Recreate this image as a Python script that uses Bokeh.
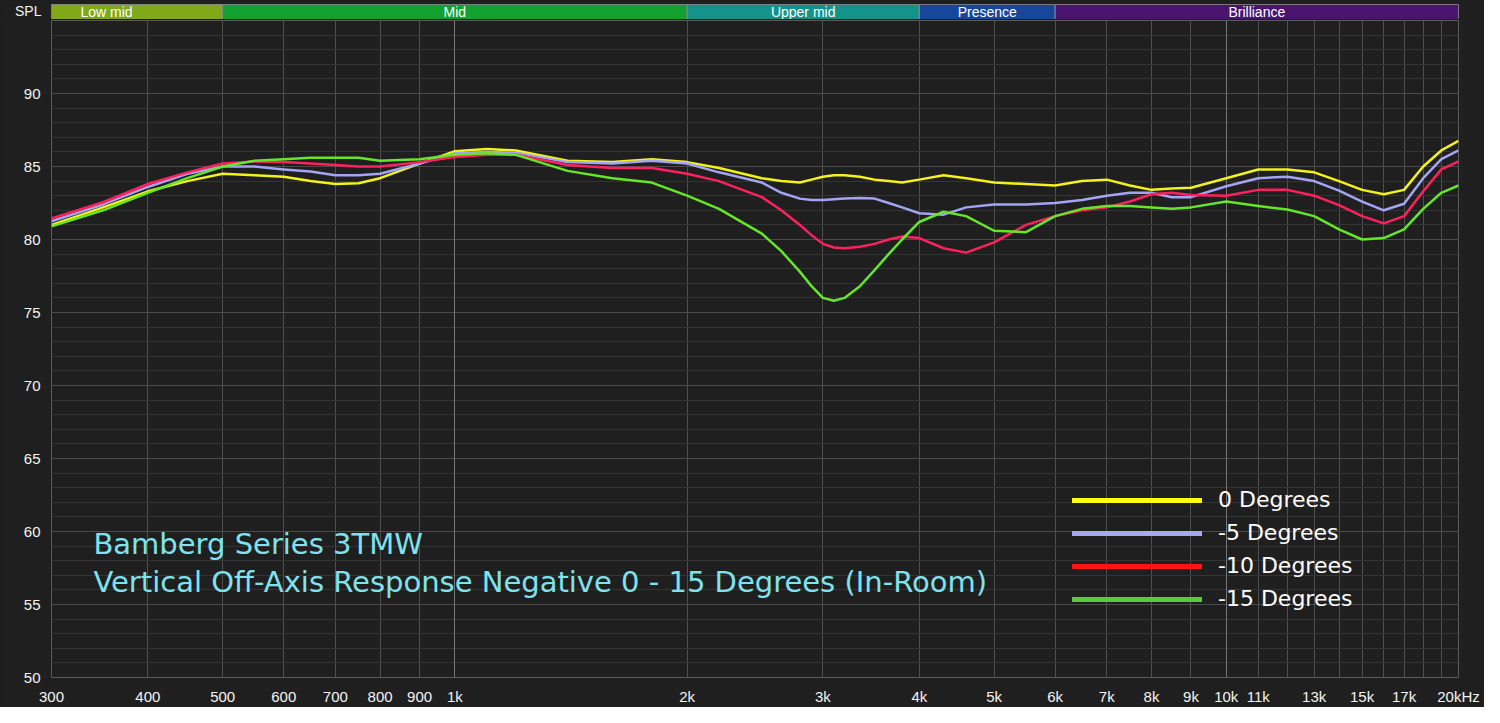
from bokeh.plotting import figure
from bokeh.models import (Range1d, FixedTicker, Grid, Legend, LegendItem, Label)
from bokeh.layouts import column
from bokeh.embed import file_html
from bokeh.resources import INLINE
from bokeh.core.properties import value
import math

# ---------------- data ----------------
freqs = [300, 350, 400, 450, 500, 550, 600, 650, 700, 750, 800, 900, 1000, 1100, 1200,
         1400, 1600, 1800, 2000, 2200, 2500, 2650, 2800, 2900, 3000, 3100, 3200, 3350, 3500,
         3650, 3800, 4000, 4300, 4600, 5000, 5500, 6000, 6500, 7000, 7500, 8000, 8500, 9000,
         10000, 11000, 12000, 13000, 14000, 15000, 16000, 17000, 18000, 19000, 20000]

deg_0 = [81.0, 82.2, 83.3, 84.0, 84.5, 84.4, 84.3, 84.0, 83.8, 83.85, 84.2, 85.2, 86.05,
         86.2, 86.1, 85.4, 85.3, 85.5, 85.3, 84.9, 84.2, 84.0, 83.9, 84.1, 84.3, 84.4, 84.4,
         84.3, 84.1, 84.0, 83.9, 84.1, 84.4, 84.2, 83.9, 83.8, 83.7, 84.0, 84.1, 83.7, 83.4,
         83.5, 83.55, 84.2, 84.8, 84.8, 84.6, 84.0, 83.4, 83.1, 83.4, 85.0, 86.1, 86.75]

deg_m5 = [81.25, 82.4, 83.6, 84.5, 85.0, 85.0, 84.8, 84.65, 84.4, 84.4, 84.5, 85.2, 85.9,
          86.0, 85.95, 85.3, 85.2, 85.4, 85.2, 84.6, 83.9, 83.2, 82.8, 82.7, 82.7, 82.75, 82.8,
          82.85, 82.8, 82.5, 82.2, 81.8, 81.7, 82.2, 82.4, 82.4, 82.5, 82.7, 83.0, 83.2, 83.2,
          82.9, 82.9, 83.65, 84.2, 84.3, 84.0, 83.35, 82.6, 82.0, 82.45, 84.2, 85.5, 86.1]

deg_m10 = [81.45, 82.55, 83.8, 84.6, 85.2, 85.35, 85.3, 85.2, 85.1, 85.0, 85.0, 85.3, 85.65,
           85.8, 85.8, 85.1, 84.9, 84.9, 84.5, 84.0, 82.9, 82.0, 81.0, 80.3, 79.7, 79.45, 79.4,
           79.5, 79.7, 80.0, 80.2, 80.1, 79.4, 79.1, 79.8, 81.0, 81.6, 82.0, 82.2, 82.6, 83.1,
           83.2, 83.05, 83.0, 83.4, 83.4, 83.0, 82.35, 81.6, 81.1, 81.6, 83.3, 84.8, 85.35]

deg_m15 = [80.9, 82.0, 83.2, 84.2, 85.0, 85.4, 85.5, 85.6, 85.6, 85.6, 85.4, 85.5, 85.8,
           85.9, 85.8, 84.7, 84.2, 83.9, 83.0, 82.1, 80.4, 79.2, 77.8, 76.8, 76.0, 75.8, 76.0,
           76.8, 77.9, 79.0, 80.0, 81.2, 81.9, 81.6, 80.6, 80.5, 81.6, 82.1, 82.3, 82.3, 82.2,
           82.1, 82.2, 82.6, 82.3, 82.05, 81.6, 80.7, 80.0, 80.1, 80.7, 82.1, 83.2, 83.7]

series_names = ["0 Degrees", "-5 Degrees", "-10 Degrees", "-15 Degrees"]

band_names = ["Low mid", "Mid", "Upper mid", "Presence", "Brilliance"]
band_lo = [250, 500, 2000, 4000, 6000]
band_hi = [500, 2000, 4000, 6000, 20000]

x_ticks = [300, 400, 500, 600, 700, 800, 900, 1000, 2000, 3000, 4000, 5000, 6000,
           7000, 8000, 9000, 10000, 11000, 13000, 15000, 17000, 20000]
x_tick_labels = ["300", "400", "500", "600", "700", "800", "900", "1k", "2k", "3k", "4k",
                 "5k", "6k", "7k", "8k", "9k", "10k", "11k", "13k", "15k", "17k", "20kHz"]
x_extra_grid = [12000, 14000, 16000, 18000, 19000]
x_bright_grid = [1000, 10000]
y_ticks = [50, 55, 60, 65, 70, 75, 80, 85, 90]
y_minor = list(range(50, 96))

title_lines = ["Bamberg Series 3TMW",
               "Vertical Off-Axis Response Negative 0 - 15 Degrees (In-Room)"]

# ---------------- styles ----------------
BG = "#1f1f1f"
curve_colors = ["#f2f21e", "#a4a4f4", "#ff2060", "#66e628"]
legend_colors = ["#ffff10", "#a8a8f0", "#ff1414", "#5cc83c"]
band_colors = ["#80a818", "#12a02e", "#13938a", "#17479a", "#4a1570"]
TITLE_COLOR = "#7fe3ee"
FONT = "Liberation Sans"
WIDE = "DejaVu Sans"

W = 1484
x_range = Range1d(300, 20000)

# ---------------- band strip ----------------
pb = figure(width=W, height=19, x_axis_type="log", x_range=x_range, y_range=Range1d(0, 1),
            output_backend="svg", toolbar_location=None,
            min_border_left=51, min_border_right=26, min_border_top=4, min_border_bottom=0,
            background_fill_color=BG, border_fill_color=BG, outline_line_color="#777777")
pb.xaxis.visible = False
pb.grid.visible = False
pb.quad(left=band_lo, right=band_hi, bottom=0, top=1, fill_color=band_colors,
        line_color="#8a8a8a", line_width=1)
band_centers = [math.sqrt(a * b) for a, b in zip(band_lo, band_hi)]
pb.text(x=band_centers, y=[0.5] * len(band_names), text=band_names, text_align="center",
        text_baseline="middle", text_color="#ffffff", text_font=value(FONT),
        text_font_size="14px")
pb.yaxis.ticker = FixedTicker(ticks=[0.5])
pb.yaxis.major_label_overrides = {0.5: "SPL"}
pb.yaxis.axis_line_color = None
pb.yaxis.major_tick_line_color = None
pb.yaxis.minor_tick_line_color = None
pb.yaxis.major_label_text_color = "#f4f4f4"
pb.yaxis.major_label_text_font = FONT
pb.yaxis.major_label_text_font_size = "14px"
pb.yaxis.major_label_standoff = 4

# ---------------- main plot ----------------
p = figure(width=W, height=688, x_axis_type="log", x_range=x_range, y_range=Range1d(50, 95),
           output_backend="svg", toolbar_location=None,
           min_border_left=51, min_border_right=26, min_border_top=1, min_border_bottom=22,
           background_fill_color=BG, border_fill_color=BG, outline_line_color="#5a5a5a")
# a range far away from the data, used only so legend swatches draw nothing in the frame
p.extra_y_ranges = {"legend_only": Range1d(1000, 1001)}

p.xaxis.ticker = FixedTicker(ticks=x_ticks)
p.xaxis.major_label_overrides = {t: l for t, l in zip(x_ticks, x_tick_labels)}
p.yaxis.ticker = FixedTicker(ticks=y_ticks)

p.xgrid.ticker = FixedTicker(ticks=x_ticks + x_extra_grid)
p.xgrid.grid_line_color = "#4f4f4f"
p.ygrid.ticker = FixedTicker(ticks=y_ticks, minor_ticks=y_minor)
p.ygrid.grid_line_color = "#4a4a4a"
p.ygrid.minor_grid_line_color = "#343434"
p.add_layout(Grid(dimension=0, ticker=FixedTicker(ticks=x_bright_grid),
                  grid_line_color="#767676"))

for ax in (p.xaxis[0], p.yaxis[0]):
    ax.axis_line_color = None
    ax.major_tick_line_color = None
    ax.minor_tick_line_color = None
    ax.major_label_text_color = "#f4f4f4"
    ax.major_label_text_font = FONT
    ax.major_label_text_font_size = "15px"
p.xaxis.major_label_standoff = 4
p.yaxis.major_label_standoff = 5

all_series = [deg_0, deg_m5, deg_m10, deg_m15]
for ys, c in zip(all_series, curve_colors):
    p.line(freqs, ys, line_color=c, line_width=2.5, line_join="round")

# legend: thick-line renderers mapped to an off-screen range
items = []
for name, c, ys in zip(series_names, legend_colors, all_series):
    r = p.line(freqs, ys, y_range_name="legend_only", line_color=c, line_width=5,
               line_cap="round")
    items.append(LegendItem(label=name, renderers=[r]))
legend = Legend(items=items, location=(1021, 66), orientation="vertical",
                background_fill_alpha=0, border_line_color=None, padding=0, margin=0,
                glyph_width=130, glyph_height=22, label_height=22, spacing=8,
                label_standoff=16, label_text_color="#ffffff", label_text_font=WIDE,
                label_text_font_size="22px")
p.add_layout(legend)

# title annotation
p.add_layout(Label(x=340, y=59.15, text=title_lines[0], text_color=TITLE_COLOR,
                   text_font=WIDE, text_font_size="29px", text_baseline="middle"))
p.add_layout(Label(x=340, y=56.55, text=title_lines[1], text_color=TITLE_COLOR,
                   text_font=WIDE, text_font_size="29px", text_baseline="middle"))

layout = column(pb, p, spacing=0)
layout.styles = {"background-color": BG}

open("out.html", "w").write(file_html(layout, INLINE))
